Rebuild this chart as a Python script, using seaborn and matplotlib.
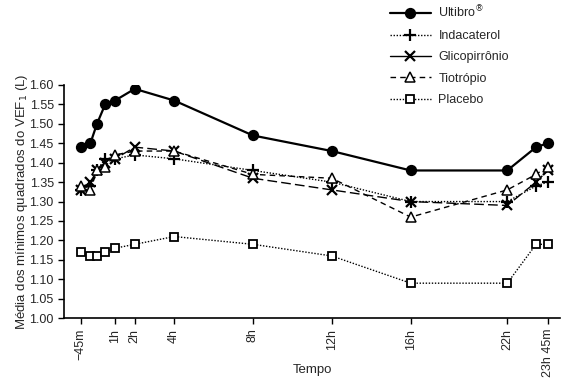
import numpy as np
import pandas as pd
import seaborn as sns
import matplotlib.pyplot as plt
from matplotlib.lines import Line2D

# time points (hours after dose)
tempo = [-0.75, -0.25, 5 / 60, 0.5, 1, 2, 4, 8, 12, 16, 22, 23.25, 23.75]

ultibro = [1.44, 1.45, 1.50, 1.55, 1.56, 1.59, 1.56, 1.47, 1.43, 1.38, 1.38, 1.44, 1.45]
indacaterol = [1.33, 1.34, 1.38, 1.41, 1.41, 1.42, 1.41, 1.38, 1.35, 1.30, 1.30, 1.34, 1.35]
glicopirronio = [1.33, 1.35, 1.38, 1.40, 1.41, 1.44, 1.43, 1.36, 1.33, 1.30, 1.29, 1.35, 1.38]
tiotropio = [1.34, 1.33, 1.38, 1.39, 1.42, 1.43, 1.43, 1.37, 1.36, 1.26, 1.33, 1.37, 1.39]
placebo = [1.17, 1.16, 1.16, 1.17, 1.18, 1.19, 1.21, 1.19, 1.16, 1.09, 1.09, 1.19, 1.19]

tick_pos = [-0.75, 1, 2, 4, 8, 12, 16, 22, 23.75]
tick_labels = ["\u221245m", "1h", "2h", "4h", "8h", "12h", "16h", "22h", "23h 45m"]

sns.set_style("ticks")
plt.rcParams["font.family"] = ["Liberation Sans", "DejaVu Sans"]

fig = plt.figure(figsize=(5.68, 3.88), dpi=100)
ax = fig.add_axes([0.113, 0.18, 0.873, 0.601])

# the original axis is compressed between 16h and 22h
xs = [-3, 16, 22, 26]
ps = [-3, 16, 20.9, 20.9 + 4 * 1.17]


def fwd(x):
    return np.interp(x, xs, ps)


def inv(p):
    return np.interp(p, ps, xs)


ax.set_xscale("function", functions=(fwd, inv))

series = [
    ("Ultibro$^{\\circledR}$", ultibro, dict(marker="o", linestyle="-", linewidth=1.6,
                                            markersize=7, markerfacecolor="black")),
    ("Indacaterol", indacaterol, dict(marker="+", linestyle=(0, (1, 1.2)), linewidth=1,
                                      markersize=8.5, markeredgewidth=1.6)),
    ("Glicopirrônio", glicopirronio, dict(marker="x", linestyle=(0, (7, 3)), linewidth=1,
                                          markersize=7, markeredgewidth=1.6)),
    ("Tiotrópio", tiotropio, dict(marker="^", linestyle=(0, (4, 3)), linewidth=1,
                                  markersize=7.5, markerfacecolor="white")),
    ("Placebo", placebo, dict(marker="s", linestyle=(0, (1, 1.2)), linewidth=1,
                              markersize=5.5, markerfacecolor="white", markeredgewidth=1.3)),
]

for name, vals, kw in series:
    df = pd.DataFrame({"Tempo": tempo, "VEF1": vals})
    kw.setdefault("markeredgewidth", 1.1)
    sns.lineplot(data=df, x="Tempo", y="VEF1", ax=ax, color="black",
                 markeredgecolor="black", label=name, **kw)

ax.set_xlim(inv(-1.58), 24.29)
ax.set_ylim(1.0, 1.6)
ax.set_yticks(np.arange(1.0, 1.601, 0.05))
ax.set_yticklabels([f"{v:.2f}" for v in np.arange(1.0, 1.601, 0.05)])
ax.set_xticks(tick_pos)
ax.set_xticklabels(tick_labels, rotation=90)
ax.minorticks_off()
ax.tick_params(labelsize=9, length=4, width=1, color="black")
ax.set_xlabel("Tempo", fontsize=9.5, va="center")
ax.xaxis.set_label_coords(0.5, -0.223)
ax.set_ylabel("Média dos mínimos quadrados do VEF$_1$ (L)", fontsize=9.5, va="center")
ax.yaxis.set_label_coords(-0.085, 0.5)
sns.despine(ax=ax)
for s in ["left", "bottom"]:
    ax.spines[s].set_linewidth(1.2)
    ax.spines[s].set_color("black")

handles, labels = ax.get_legend_handles_labels()
ax.get_legend().remove()
# the reference legend shows Glicopirrônio with a solid line
handles[2] = Line2D([], [], color="black", linestyle="-", linewidth=1,
                    marker="x", markersize=7, markeredgewidth=1.6)
fig.legend(handles, labels, loc="upper left", bbox_to_anchor=(0.675, 1.005),
           frameon=False, fontsize=9, handlelength=3.3, handletextpad=0.6,
           labelspacing=0.75, borderpad=0)

fig.savefig("out.png", dpi=100)
